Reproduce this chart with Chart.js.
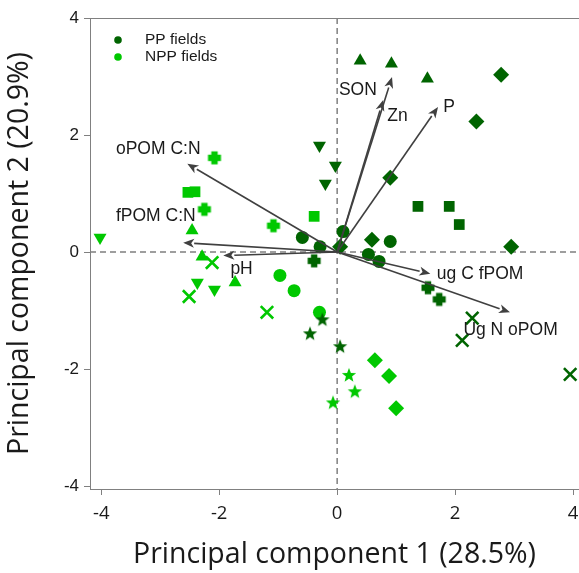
<!DOCTYPE html>
<html>
<head>
<meta charset="utf-8">
<script src="https://cdn.jsdelivr.net/npm/chart.js@4.4.1/dist/chart.umd.min.js"></script>
<style>
  html, body { margin: 0; padding: 0; background: #fff; }
  #wrap { width: 579px; height: 573px; }
</style>
</head>
<body>
<div id="wrap"><canvas id="grafica" width="579" height="573"></canvas></div>
<script>
// TICKS
const xTicks = [-4, -2, 0, 2, 4];
const yTicks = [-4, -2, 0, 2, 4];

// PP FIELDS (verde oscuro)
const ppCirculo = [[-0.59, 0.25], [-0.29, 0.09], [0.10, 0.35], [0.90, 0.18], [0.53, -0.04], [0.71, -0.16]];
const ppTrianguloArriba = [[0.39, 3.27], [0.92, 3.22], [1.53, 2.96]];
const ppTrianguloAbajo = [[-0.30, 1.82], [-0.03, 1.48], [-0.20, 1.17]];
const ppRombo = [[2.78, 3.03], [2.36, 2.23], [0.90, 1.27], [0.59, 0.21], [2.95, 0.09], [0.05, 0.09]];
const ppCuadrado = [[1.37, 0.78], [1.90, 0.78], [2.07, 0.47]];
const ppMas = [[1.54, -0.61], [1.73, -0.81], [-0.39, -0.15]];
const ppEquis = [[2.29, -1.13], [2.12, -1.51], [3.95, -2.09]];
const ppEstrella = [[0.05, -1.61], [-0.25, -1.15], [-0.46, -1.39]];

// NPP FIELDS (verde claro)
const nppCirculo = [[-0.97, -0.40], [-0.73, -0.66], [-0.30, -1.03]];
const nppCuadrado = [[-2.53, 1.02], [-2.41, 1.03], [-0.39, 0.61]];
const nppMas = [[-2.08, 1.61], [-2.25, 0.73], [-1.08, 0.45]];
const nppTrianguloArriba = [[-2.46, 0.37], [-2.29, -0.08], [-1.73, -0.52]];
const nppTrianguloAbajo = [[-4.02, 0.25], [-2.37, -0.52], [-2.08, -0.64]];
const nppEquis = [[-2.12, -0.18], [-2.51, -0.76], [-1.19, -1.03]];
const nppRombo = [[0.64, -1.85], [0.88, -2.12], [1.00, -2.67]];
const nppEstrella = [[0.20, -2.10], [0.30, -2.38], [-0.07, -2.57]];

// VECTORES (cargas)
const vectorNombres = ['oPOM C:N', 'fPOM C:N', 'pH', 'SON', 'Zn', 'P', 'ug C fPOM', 'Ug N oPOM'];
const vectorX = [-2.54, -2.61, -1.93, 0.93, 0.78, 1.71, 1.58, 2.93];
const vectorY = [1.51, 0.16, -0.06, 2.99, 2.60, 2.48, -0.37, -1.03];
const etiquetaX = [-3.75, -3.75, -1.81, 0.03, 0.85, 1.80, 1.69, 2.14];
const etiquetaY = [1.75, 0.61, -0.30, 2.76, 2.33, 2.47, -0.37, -1.34];

const grupos = ['PP fields', 'NPP fields'];

const verdeOscuro = '#006400';
const verdeClaro = '#00c800';

// FUNCION QUE CREA UN CANVAS CON UNA FIGURA RELLENA
const crearFigura = (tipo, color) => {
  const c = document.createElement('canvas');
  const s = 16;
  c.width = s;
  c.height = s;
  const ctx = c.getContext('2d');
  ctx.fillStyle = color;
  ctx.beginPath();
  if (tipo === 'estrella') {
    const ro = 7.5, ri = 3.2;
    for (let i = 0; i < 10; i++) {
      const r = i % 2 === 0 ? ro : ri;
      const a = -Math.PI / 2 + i * Math.PI / 5;
      const px = s / 2 + r * Math.cos(a);
      const py = s / 2 + 0.6 + r * Math.sin(a);
      if (i === 0) ctx.moveTo(px, py); else ctx.lineTo(px, py);
    }
    ctx.closePath();
    ctx.fill();
  } else {
    // cruz gruesa redondeada
    ctx.arc(s / 2, s / 2, 4.3, 0, Math.PI * 2);
    ctx.fill();
    ctx.fillRect(s / 2 - 3.2, 1.5, 6.4, s - 3);
    ctx.fillRect(1.5, s / 2 - 3.2, s - 3, 6.4);
  }
  return c;
};

const aPuntos = (arr) => arr.map(([x, y]) => ({ x, y }));

const serie = (datos, color, estilo, extra = {}) => ({
  data: aPuntos(datos),
  pointStyle: estilo,
  backgroundColor: color,
  borderColor: color,
  borderWidth: 0,
  pointRadius: 6.5,
  pointHoverRadius: 6.5,
  ...extra,
});

const datasets = [];
[[verdeOscuro, ppCirculo, ppTrianguloArriba, ppTrianguloAbajo, ppRombo, ppCuadrado, ppMas, ppEquis, ppEstrella],
 [verdeClaro, nppCirculo, nppTrianguloArriba, nppTrianguloAbajo, nppRombo, nppCuadrado, nppMas, nppEquis, nppEstrella]]
  .forEach(([color, circ, triA, triB, rombo, cuad, mas, equis, estrella]) => {
    datasets.push(serie(circ, color, 'circle', { pointRadius: 6.5 }));
    datasets.push(serie(triA, color, 'triangle', { pointRadius: 7.5 }));
    datasets.push(serie(triB, color, 'triangle', { pointRadius: 7.5, rotation: 180 }));
    datasets.push(serie(rombo, color, 'rectRot', { pointRadius: 8 }));
    datasets.push(serie(cuad, color, 'rect', { pointRadius: 7.6 }));
    datasets.push(serie(mas, color, crearFigura('mas', color)));
    datasets.push(serie(equis, color, 'crossRot', { pointRadius: 8.8, borderWidth: 2.6 }));
    datasets.push(serie(estrella, color, crearFigura('estrella', color)));
  });

// PLUGIN: LINEAS PUNTEADAS, MARCO, VECTORES Y LEYENDA
const pluginBiplot = {
  id: 'biplot',
  beforeDatasetsDraw(chart) {
    const { ctx, chartArea: a, scales: { x, y } } = chart;
    ctx.save();
    ctx.strokeStyle = '#7f7f7f';
    ctx.lineWidth = 1.5;
    ctx.setLineDash([6, 4]);
    ctx.beginPath();
    ctx.moveTo(x.getPixelForValue(0), a.top);
    ctx.lineTo(x.getPixelForValue(0), a.bottom);
    ctx.moveTo(a.left, y.getPixelForValue(0));
    ctx.lineTo(a.right, y.getPixelForValue(0));
    ctx.stroke();
    ctx.setLineDash([]);
    ctx.strokeStyle = '#808080';
    ctx.lineWidth = 1;
    ctx.beginPath();
    ctx.moveTo(a.left, a.top + 0.5);
    ctx.lineTo(a.right, a.top + 0.5);
    ctx.stroke();
    ctx.restore();
  },
  afterDatasetsDraw(chart) {
    const { ctx, scales: { x, y } } = chart;
    const x0 = x.getPixelForValue(0);
    const y0 = y.getPixelForValue(0);
    ctx.save();
    ctx.strokeStyle = '#404040';
    ctx.fillStyle = '#404040';
    ctx.lineWidth = 1.6;
    vectorNombres.forEach((nombre, i) => {
      const x1 = x.getPixelForValue(vectorX[i]);
      const y1 = y.getPixelForValue(vectorY[i]);
      const ang = Math.atan2(y1 - y0, x1 - x0);
      const largo = 11, ancho = 4.5;
      const bx = x1 - largo * Math.cos(ang);
      const by = y1 - largo * Math.sin(ang);
      ctx.beginPath();
      ctx.moveTo(x0, y0);
      ctx.lineTo(bx, by);
      ctx.stroke();
      ctx.beginPath();
      ctx.moveTo(x1, y1);
      ctx.lineTo(bx + ancho * Math.sin(ang), by - ancho * Math.cos(ang));
      ctx.lineTo(bx + 3 * Math.cos(ang), by + 3 * Math.sin(ang));
      ctx.lineTo(bx - ancho * Math.sin(ang), by + ancho * Math.cos(ang));
      ctx.closePath();
      ctx.fill();
    });
    ctx.fillStyle = '#1a1a1a';
    ctx.font = '17.5px "Liberation Sans", Arial, sans-serif';
    ctx.textBaseline = 'middle';
    ctx.textAlign = 'left';
    vectorNombres.forEach((nombre, i) => {
      ctx.fillText(nombre, x.getPixelForValue(etiquetaX[i]), y.getPixelForValue(etiquetaY[i]));
    });

    // leyenda
    const a = chart.chartArea;
    const colores = [verdeOscuro, verdeClaro];
    ctx.font = '15.5px "Liberation Sans", Arial, sans-serif';
    grupos.forEach((g, i) => {
      const ly = a.top + 22 + i * 17;
      ctx.fillStyle = colores[i];
      ctx.beginPath();
      ctx.arc(a.left + 28, ly, 3.8, 0, Math.PI * 2);
      ctx.fill();
      ctx.fillStyle = '#1a1a1a';
      ctx.fillText(g, a.left + 55, ly);
    });
    ctx.restore();
  },
};

const config = {
  type: 'scatter',
  data: { datasets },
  options: {
    responsive: false,
    animation: false,
    layout: { autoPadding: false, padding: { top: 18, right: 0, left: 0, bottom: 0 } },
    plugins: { legend: { display: false }, tooltip: { enabled: false } },
    scales: {
      x: {
        min: -4.19,
        max: 4.1,
        afterBuildTicks: (s) => { s.ticks = xTicks.map((v) => ({ value: v })); },
        afterFit: (s) => { s.height = 84; s.paddingLeft = 0; s.paddingRight = 0; },
        grid: { drawOnChartArea: false, drawTicks: true, tickLength: 6, color: '#808080' },
        border: { display: true, color: '#808080' },
        ticks: { color: '#1a1a1a', padding: 8, font: { family: '"Open Sans", sans-serif', size: 18.5 } },
        title: {
          display: true,
          text: 'Principal component 1 (28.5%)',
          color: '#1a1a1a',
          font: { family: '"Open Sans", sans-serif', size: 28.5 },
          padding: { top: 0, bottom: 1 },
        },
      },
      y: {
        min: -4.05,
        max: 4,
        afterBuildTicks: (s) => { s.ticks = yTicks.map((v) => ({ value: v })); },
        afterFit: (s) => { s.width = 90; s.paddingTop = 0; s.paddingBottom = 0; },
        grid: { drawOnChartArea: false, drawTicks: true, tickLength: 6, color: '#808080' },
        border: { display: true, color: '#808080' },
        ticks: { color: '#1a1a1a', padding: 5, font: { family: '"Liberation Sans", Arial, sans-serif', size: 17 } },
        title: {
          display: true,
          text: 'Principal component 2 (20.9%)',
          color: '#1a1a1a',
          font: { family: '"Open Sans", sans-serif', size: 28.5 },
          padding: { top: 3, bottom: 0 },
        },
      },
    },
  },
  plugins: [pluginBiplot],
};

new Chart(document.getElementById('grafica'), config);
</script>
</body>
</html>
